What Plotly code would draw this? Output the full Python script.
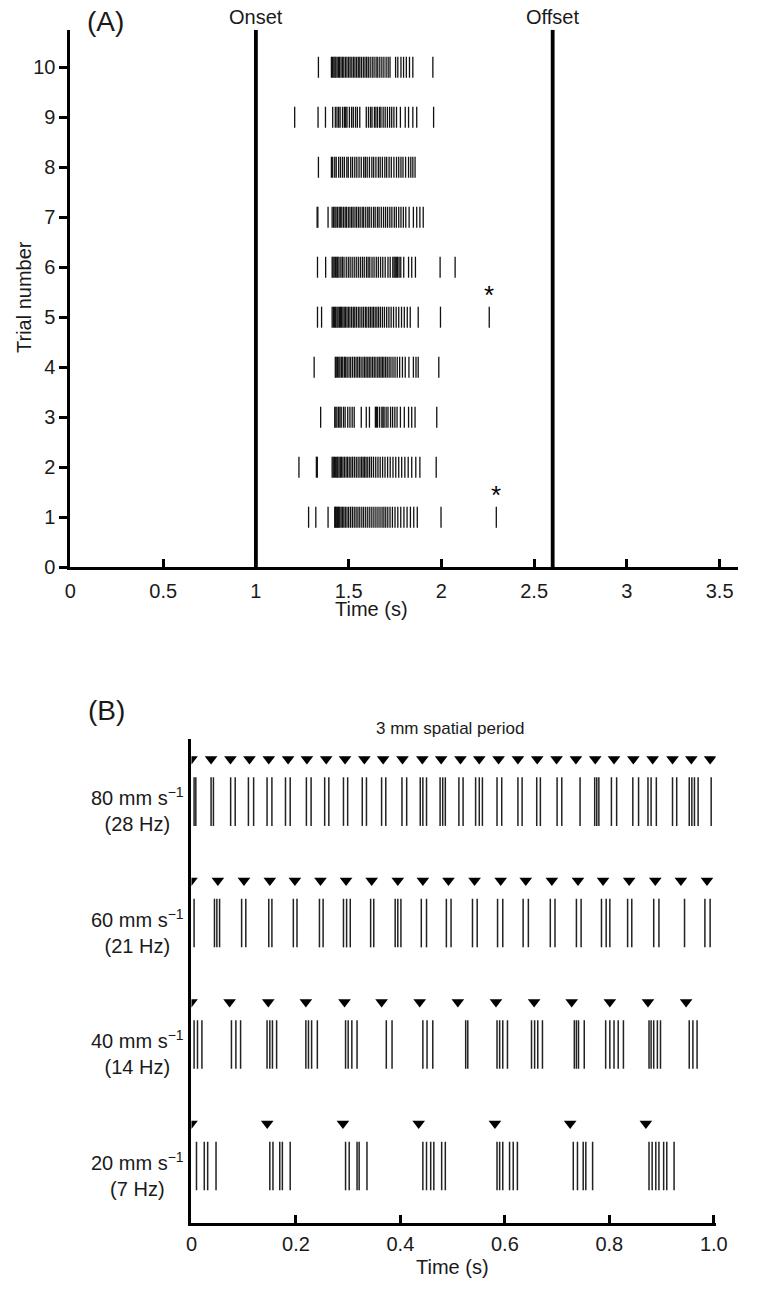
import plotly.graph_objects as go

W, H = 757, 1293

# ---------------- Panel A data ----------------
trial_numbers = list(range(1, 11))
onset_time = 1.0
offset_time = 2.6
spikes_trial = {
    10: [1.337, 1.407, 1.413, 1.420, 1.426, 1.431, 1.438, 1.446, 1.451, 1.459, 1.467, 1.474, 1.483, 1.491,
         1.500, 1.508, 1.517, 1.526, 1.534, 1.543, 1.552, 1.560, 1.569, 1.579, 1.588, 1.597, 1.606, 1.616,
         1.627, 1.637, 1.648, 1.657, 1.668, 1.679, 1.690, 1.702, 1.713, 1.723, 1.753, 1.765, 1.782, 1.796,
         1.811, 1.828, 1.846, 1.954],
    9: [1.209, 1.335, 1.375, 1.414, 1.428, 1.437, 1.446, 1.454, 1.467, 1.477, 1.484, 1.491, 1.504, 1.516,
        1.525, 1.537, 1.547, 1.560, 1.595, 1.607, 1.618, 1.626, 1.639, 1.647, 1.656, 1.667, 1.674, 1.686,
        1.697, 1.709, 1.721, 1.732, 1.744, 1.758, 1.779, 1.805, 1.823, 1.846, 1.867, 1.958],
    8: [1.337, 1.407, 1.414, 1.425, 1.433, 1.446, 1.456, 1.467, 1.477, 1.490, 1.498, 1.511, 1.521, 1.533,
        1.544, 1.556, 1.568, 1.581, 1.590, 1.600, 1.612, 1.625, 1.635, 1.647, 1.660, 1.670, 1.682, 1.695,
        1.705, 1.718, 1.730, 1.744, 1.758, 1.770, 1.782, 1.793, 1.807, 1.823, 1.835, 1.846, 1.858],
    7: [1.330, 1.334, 1.389, 1.411, 1.419, 1.426, 1.432, 1.440, 1.449, 1.455, 1.463, 1.472, 1.481, 1.488,
        1.498, 1.507, 1.516, 1.524, 1.534, 1.543, 1.553, 1.562, 1.573, 1.581, 1.592, 1.603, 1.611, 1.622,
        1.634, 1.643, 1.655, 1.664, 1.676, 1.688, 1.699, 1.710, 1.722, 1.733, 1.746, 1.757, 1.770, 1.782,
        1.795, 1.808, 1.826, 1.849, 1.867, 1.884, 1.902],
    6: [1.332, 1.376, 1.411, 1.416, 1.422, 1.429, 1.436, 1.441, 1.448, 1.458, 1.466, 1.475, 1.487, 1.498,
        1.508, 1.519, 1.530, 1.541, 1.552, 1.563, 1.574, 1.584, 1.596, 1.605, 1.614, 1.626, 1.637, 1.649,
        1.660, 1.672, 1.684, 1.697, 1.712, 1.724, 1.738, 1.745, 1.751, 1.757, 1.764, 1.772, 1.781, 1.797,
        1.823, 1.840, 1.860, 1.993, 2.074],
    5: [1.332, 1.354, 1.411, 1.418, 1.424, 1.430, 1.437, 1.443, 1.450, 1.456, 1.462, 1.469, 1.476, 1.483,
        1.491, 1.499, 1.507, 1.516, 1.525, 1.533, 1.542, 1.552, 1.561, 1.571, 1.580, 1.590, 1.598, 1.608,
        1.617, 1.626, 1.634, 1.643, 1.652, 1.661, 1.671, 1.682, 1.693, 1.705, 1.717, 1.729, 1.742, 1.756,
        1.770, 1.785, 1.800, 1.816, 1.832, 1.875, 1.995, 2.258],
    4: [1.314, 1.428, 1.433, 1.440, 1.447, 1.453, 1.461, 1.468, 1.477, 1.484, 1.492, 1.502, 1.511, 1.521,
        1.531, 1.540, 1.549, 1.558, 1.567, 1.577, 1.586, 1.594, 1.603, 1.611, 1.620, 1.629, 1.638, 1.647,
        1.657, 1.665, 1.674, 1.682, 1.690, 1.699, 1.708, 1.718, 1.728, 1.739, 1.750, 1.762, 1.775, 1.790,
        1.805, 1.825, 1.849, 1.863, 1.875, 1.986],
    3: [1.349, 1.425, 1.431, 1.437, 1.446, 1.453, 1.460, 1.472, 1.481, 1.495, 1.507, 1.519, 1.530, 1.568,
        1.595, 1.612, 1.644, 1.650, 1.656, 1.667, 1.679, 1.685, 1.691, 1.702, 1.712, 1.726, 1.737, 1.749,
        1.761, 1.779, 1.800, 1.823, 1.840, 1.858, 1.975],
    2: [1.232, 1.326, 1.331, 1.411, 1.417, 1.423, 1.430, 1.436, 1.441, 1.448, 1.455, 1.461, 1.469, 1.477,
        1.486, 1.494, 1.503, 1.512, 1.521, 1.531, 1.541, 1.551, 1.561, 1.570, 1.578, 1.586, 1.594, 1.603,
        1.613, 1.623, 1.634, 1.646, 1.658, 1.670, 1.683, 1.696, 1.710, 1.724, 1.739, 1.754, 1.770, 1.786,
        1.803, 1.821, 1.840, 1.862, 1.884, 1.972],
    1: [1.284, 1.323, 1.389, 1.425, 1.429, 1.433, 1.437, 1.441, 1.446, 1.452, 1.459, 1.466, 1.474, 1.482,
        1.491, 1.500, 1.510, 1.520, 1.530, 1.540, 1.550, 1.560, 1.571, 1.581, 1.592, 1.603, 1.614, 1.625,
        1.636, 1.647, 1.658, 1.669, 1.680, 1.690, 1.700, 1.711, 1.723, 1.736, 1.750, 1.765, 1.781, 1.798,
        1.815, 1.833, 1.851, 1.870, 1.998, 2.296],
}
asterisk_trials = [5, 1]
asterisk_times = [2.258, 2.296]
a_xticks = [0, 0.5, 1, 1.5, 2, 2.5, 3, 3.5]
a_xticklabels = ["0", "0.5", "1", "1.5", "2", "2.5", "3", "3.5"]

# ---------------- Panel B data ----------------
speed_labels = ["80 mm s<sup>−1</sup><br>(28 Hz)", "60 mm s<sup>−1</sup><br>(21 Hz)",
                "40 mm s<sup>−1</sup><br>(14 Hz)", "20 mm s<sup>−1</sup><br>(7 Hz)"]
row_levels = [3, 2, 1, 0]
stim_times = [
    [0.0, 0.0375, 0.0746, 0.111, 0.148, 0.185, 0.221, 0.258, 0.294, 0.331, 0.367, 0.404, 0.442, 0.478,
     0.515, 0.551, 0.588, 0.625, 0.662, 0.699, 0.736, 0.773, 0.809, 0.846, 0.883, 0.921, 0.957, 0.993],
    [0.0, 0.0505, 0.1005, 0.150, 0.198, 0.247, 0.296, 0.345, 0.395, 0.443, 0.492, 0.542, 0.592, 0.640,
     0.690, 0.740, 0.788, 0.838, 0.888, 0.937, 0.987],
    [0.0, 0.073, 0.147, 0.219, 0.293, 0.364, 0.437, 0.510, 0.583, 0.656, 0.728, 0.801, 0.874, 0.947],
    [0.0, 0.145, 0.290, 0.435, 0.581, 0.725, 0.870],
]
spike_times_b = [
    [0.005, 0.0083, 0.0375, 0.042, 0.075, 0.0837, 0.109, 0.119, 0.1447, 0.154, 0.180, 0.189, 0.220, 0.229,
     0.255, 0.263, 0.291, 0.299, 0.327, 0.335, 0.364, 0.372, 0.403, 0.412, 0.438, 0.443, 0.450, 0.476,
     0.481, 0.486, 0.512, 0.520, 0.544, 0.551, 0.557, 0.585, 0.594, 0.625, 0.633, 0.661, 0.668, 0.700,
     0.709, 0.744, 0.772, 0.776, 0.780, 0.804, 0.814, 0.845, 0.856, 0.874, 0.880, 0.890, 0.921, 0.929,
     0.953, 0.958, 0.963, 0.970, 0.995],
    [0.005, 0.044, 0.0486, 0.0538, 0.096, 0.104, 0.148, 0.154, 0.195, 0.202, 0.245, 0.252, 0.291, 0.297,
     0.304, 0.343, 0.349, 0.390, 0.395, 0.401, 0.440, 0.450, 0.488, 0.497, 0.538, 0.547, 0.586, 0.596,
     0.635, 0.645, 0.687, 0.696, 0.737, 0.746, 0.785, 0.794, 0.801, 0.835, 0.843, 0.885, 0.895, 0.944,
     0.983, 0.993],
    [0.005, 0.0115, 0.020, 0.0765, 0.085, 0.094, 0.1447, 0.150, 0.155, 0.163, 0.219, 0.224, 0.230, 0.241,
     0.295, 0.300, 0.307, 0.317, 0.373, 0.384, 0.443, 0.451, 0.462, 0.525, 0.529, 0.585, 0.590, 0.596,
     0.605, 0.651, 0.657, 0.663, 0.672, 0.733, 0.737, 0.741, 0.752, 0.793, 0.801, 0.809, 0.817, 0.827,
     0.876, 0.880, 0.885, 0.892, 0.898, 0.953, 0.960, 0.968],
    [0.0096, 0.0245, 0.031, 0.047, 0.150, 0.156, 0.169, 0.174, 0.189, 0.295, 0.302, 0.317, 0.321, 0.336,
     0.443, 0.450, 0.458, 0.464, 0.479, 0.486, 0.585, 0.590, 0.596, 0.609, 0.616, 0.624, 0.731, 0.739,
     0.750, 0.755, 0.768, 0.876, 0.882, 0.889, 0.895, 0.904, 0.910, 0.924],
]
b_xticks = [0, 0.2, 0.4, 0.6, 0.8, 1.0]
b_xticklabels = ["0", "0.2", "0.4", "0.6", "0.8", "1.0"]

# ---------------- helpers ----------------
def px(x):
    return x / W

def py(y):
    return 1 - y / H

def raster(times, level, half):
    xs, ys = [], []
    for t in times:
        xs += [t, t, None]
        ys += [level - half, level + half, None]
    return xs, ys

FONT = "Liberation Sans, Arial, sans-serif"
TXT = "#1a1a1a"

fig = go.Figure()

A_TOP = 10.75
for tr in trial_numbers:
    xs, ys = raster(spikes_trial[tr], tr, 0.21)
    fig.add_trace(go.Scatter(x=xs, y=ys, mode="lines", line=dict(color="#111", width=1.3),
                             hoverinfo="skip", showlegend=False, xaxis="x", yaxis="y"))
for t in [onset_time, offset_time]:
    fig.add_trace(go.Scatter(x=[t, t], y=[0, A_TOP], mode="lines", line=dict(color="#000", width=3.8),
                             hoverinfo="skip", showlegend=False, xaxis="x", yaxis="y"))

for lvl, sp, st in zip(row_levels, spike_times_b, stim_times):
    xs, ys = raster(sp, lvl, 0.2)
    fig.add_trace(go.Scatter(x=xs, y=ys, mode="lines", line=dict(color="#222", width=1.5),
                             hoverinfo="skip", showlegend=False, xaxis="x2", yaxis="y2"))
    fig.add_trace(go.Scatter(x=st, y=[lvl + 0.35] * len(st), mode="markers",
                             marker=dict(symbol="triangle-down", size=11, color="#000"),
                             hoverinfo="skip", showlegend=False, xaxis="x2", yaxis="y2"))

base = dict(showgrid=False, zeroline=False, showline=True, linecolor="#000", linewidth=3,
            ticklen=8, tickwidth=2.5, tickcolor="#000",
            tickfont=dict(family=FONT, size=20, color=TXT), fixedrange=True)

fig.update_layout(
    width=W, height=H, margin=dict(l=0, r=0, t=0, b=0),
    paper_bgcolor="white", plot_bgcolor="white",
    xaxis=dict(domain=[px(66), px(750)], range=[0, 3.6], anchor="y", ticks="inside",
               ticklabelstandoff=4, tickvals=a_xticks, ticktext=a_xticklabels, **base),
    yaxis=dict(domain=[py(572), py(30)], range=[0, A_TOP], anchor="x", ticks="outside",
               tickvals=[0] + trial_numbers, ticktext=[str(v) for v in [0] + trial_numbers], **base),
    xaxis2=dict(domain=[px(190), px(727)], range=[0, 1.0037], anchor="y2", ticks="inside",
                ticklabelstandoff=1, tickvals=b_xticks, ticktext=b_xticklabels, **base),
    yaxis2=dict(domain=[py(1233), py(745)], range=[-0.465, 3.518], anchor="x2",
                showgrid=False, zeroline=False, showline=True, linecolor="#000", linewidth=3,
                ticks="", showticklabels=False, fixedrange=True),
)

ann = []
def text(x, y, s, size=20, **kw):
    d = dict(x=x, y=y, xref="paper", yref="paper", text=s, showarrow=False,
             xanchor="center", yanchor="middle",
             font=dict(family=FONT, size=size, color=TXT))
    d.update(kw)
    ann.append(d)

text(px(102), py(22), "(A)", size=28)
text(px(103), py(717), "(B)", size=28)
text(px(374), py(614), "Time (s)")
text(px(457), py(1278), "Time (s)")
text(px(19), py(300), "Trial number", textangle=-90)
text(px(455), py(735), "3 mm spatial period", size=17)
for t, lab in [(onset_time, "Onset"), (offset_time, "Offset")]:
    ann.append(dict(x=t, y=py(17), xref="x", yref="paper", text=lab, showarrow=False,
                    xanchor="center", yanchor="middle",
                    font=dict(family=FONT, size=20, color=TXT)))
for tr, t in zip(asterisk_trials, asterisk_times):
    ann.append(dict(x=t, y=tr, xref="x", yref="y", text="*", showarrow=False, yshift=22,
                    xanchor="center", yanchor="middle",
                    font=dict(family=FONT, size=26, color="#000")))
for lvl, lab in zip(row_levels, speed_labels):
    ann.append(dict(x=px(184), y=lvl, xref="paper", yref="y2", text=lab, showarrow=False,
                    xanchor="right", yanchor="middle", align="center", yshift=-8,
                    font=dict(family=FONT, size=20, color=TXT)))
fig.update_layout(annotations=ann)

fig.write_html("out.html", config={"displayModeBar": False},
               post_script="document.body.style.margin='0';document.body.style.padding='0';"
                           "document.documentElement.style.overflow='hidden';")
